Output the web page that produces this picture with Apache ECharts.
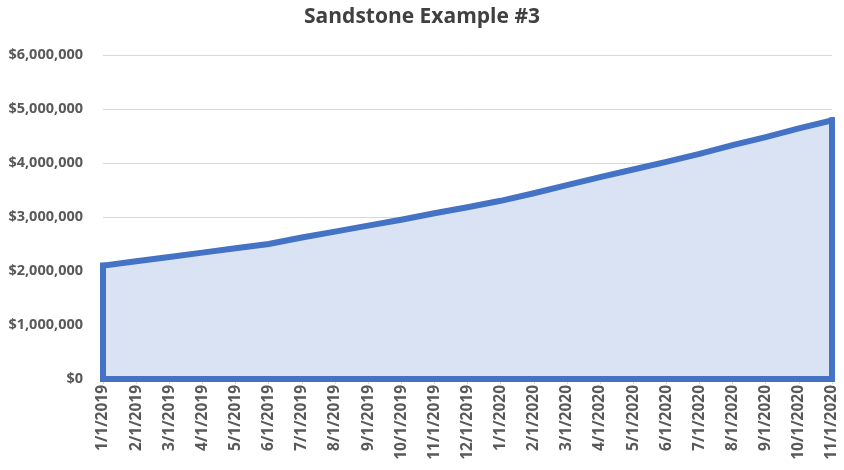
<!DOCTYPE html>
<html>
<head>
<meta charset="utf-8">
<script src="https://cdn.jsdelivr.net/npm/echarts@6/dist/echarts.min.js"></script>
<style>
html,body{margin:0;padding:0;background:#fff;}
#chart{width:844px;height:470px;}
</style>
</head>
<body>
<div id="chart"></div>
<script>
const chartTitle = 'Sandstone Example #3';
const categories = ['1/1/2019','2/1/2019','3/1/2019','4/1/2019','5/1/2019','6/1/2019','7/1/2019','8/1/2019','9/1/2019','10/1/2019','11/1/2019','12/1/2019',
  '1/1/2020','2/1/2020','3/1/2020','4/1/2020','5/1/2020','6/1/2020','7/1/2020','8/1/2020','9/1/2020','10/1/2020','11/1/2020'];
const values = [2100000,2180000,2260000,2340000,2420000,2500000,2620000,2730000,2840000,2950000,3070000,3180000,
  3300000,3440000,3590000,3740000,3880000,4020000,4170000,4330000,4480000,4640000,4790000];
const yTicks = [0,1000000,2000000,3000000,4000000,5000000,6000000];

const lineColor = '#4472c4';
const fillColor = '#dae3f3';
const labelColor = '#595959';
const fontFam = '"Open Sans", "DejaVu Sans", sans-serif';

const last = categories.length - 1;
const chart = echarts.init(document.getElementById('chart'));
chart.setOption({
  animation: false,
  backgroundColor: '#fff',
  title: {
    text: chartTitle,
    left: 'center',
    top: 2,
    textStyle: {fontFamily: fontFam, fontSize: 21, fontWeight: 'bold', color: '#404040'}
  },
  grid: {left: 103, right: 12, top: 55, bottom: 91, containLabel: false},
  xAxis: {
    type: 'category',
    data: categories,
    boundaryGap: false,
    axisLine: {show: true, lineStyle: {color: '#d9d9d9', width: 1}},
    axisTick: {show: true, alignWithLabel: true, length: 5, lineStyle: {color: '#d9d9d9'}},
    axisLabel: {rotate: 90, interval: 0, margin: 6, color: labelColor, fontFamily: fontFam, fontSize: 15.5, fontWeight: 'bold'},
    splitLine: {show: false}
  },
  yAxis: {
    type: 'value',
    min: yTicks[0],
    max: yTicks[yTicks.length - 1],
    interval: yTicks[1] - yTicks[0],
    axisLine: {show: false},
    axisTick: {show: false},
    axisLabel: {
      margin: 20,
      color: labelColor, fontFamily: fontFam, fontSize: 14.5, fontWeight: 'bold',
      formatter: v => '$' + v.toLocaleString('en-US')
    },
    splitLine: {lineStyle: {color: '#d9d9d9', width: 1}}
  },
  series: [{
    type: 'line',
    data: values,
    symbol: 'none',
    smooth: false,
    lineStyle: {color: lineColor, width: 6, join: 'miter', cap: 'square'},
    areaStyle: {color: fillColor, opacity: 1},
    markLine: {
      silent: true,
      symbol: ['none', 'none'],
      label: {show: false},
      lineStyle: {color: lineColor, width: 6, type: 'solid', cap: 'square'},
      emphasis: {disabled: true},
      data: [
        [{coord: [categories[0], 0]}, {coord: [categories[0], values[0]]}],
        [{coord: [categories[last], 0]}, {coord: [categories[last], values[last]]}],
        [{coord: [categories[0], 0]}, {coord: [categories[last], 0]}]
      ]
    }
  }]
});
</script>
</body>
</html>
